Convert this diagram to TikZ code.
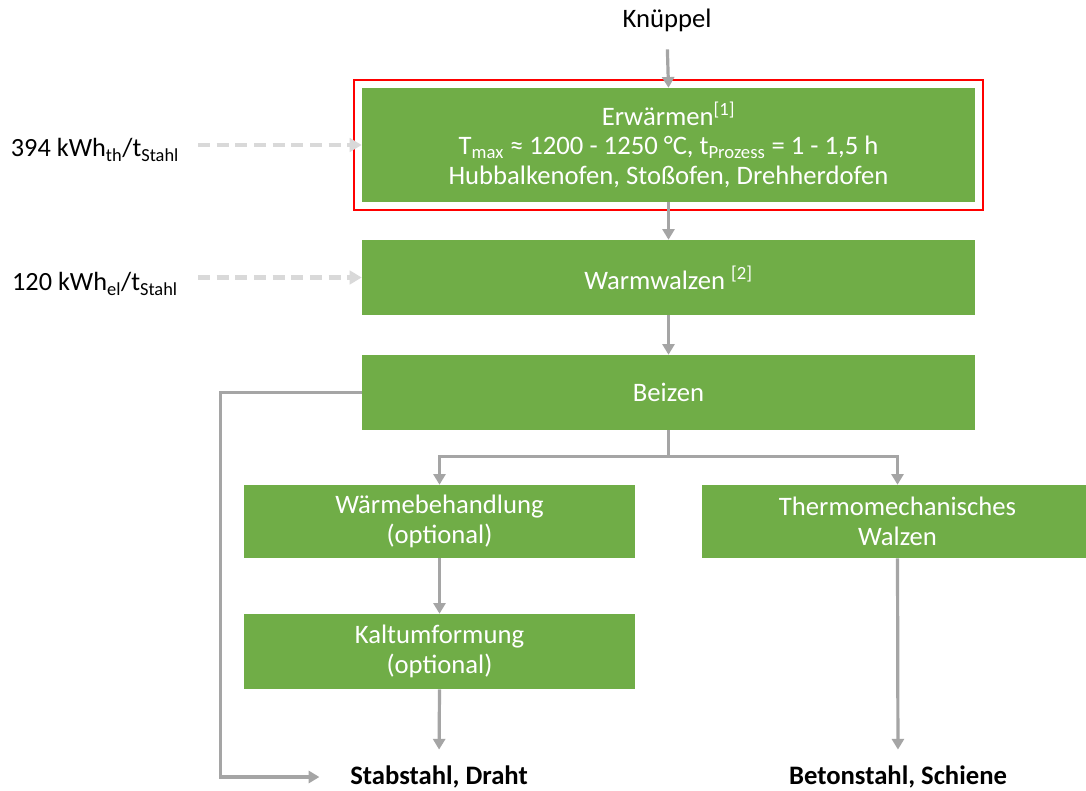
\documentclass[tikz,border=0pt]{standalone}
\usepackage{fontspec}
\setmainfont{Carlito}
\usetikzlibrary{arrows.meta,fit,calc}
\definecolor{boxgreen}{HTML}{70AD47}
\definecolor{arrgray}{HTML}{A5A5A5}
\definecolor{dashgray}{HTML}{D9D9D9}
\begin{document}
\begin{tikzpicture}[x=0.75pt,y=-0.75pt,
  stepbox/.style={fill=boxgreen,text=white,align=center,inner sep=0pt,
    font=\fontsize{20}{22.5}\selectfont},
  arr/.style={draw=arrgray,line width=2.4pt,-{Triangle[length=8pt,width=9pt]}},
  dasharr/.style={draw=dashgray,line width=3.6pt,dash pattern=on 9pt off 5pt,
    -{Triangle[length=9pt,width=10pt]}},
  outlbl/.style={font=\fontsize{20}{22}\selectfont\bfseries,inner sep=2pt},
  sidelbl/.style={font=\fontsize{19.7}{22}\selectfont,inner sep=2pt}]
\useasboundingbox (0,0) rectangle (1086,791);
\fill[white] (0,0) rectangle (1086,791);

\node[font=\fontsize{20}{22}\selectfont] (kn) at (667,20) {Knüppel};

\node[stepbox,minimum width=459.75pt,minimum height=85.5pt] (b1) at (668.5,145)
  {Erwärmen\textsuperscript{[1]}\\[-0.5pt]
   T\textsubscript{max} ≈ 1200 - 1250 °C, t\textsubscript{Prozess} = 1 - 1,5 h\\
   Hubbalkenofen, Stoßofen, Drehherdofen};
\node[draw=red,line width=1.5pt,fit=(b1),inner sep=5.6pt] (red) {};

\node[stepbox,minimum width=459.75pt,minimum height=56.25pt] (b2) at (668.5,277.5)
  {Warmwalzen \textsuperscript{[2]}};
\node[stepbox,minimum width=459.75pt,minimum height=56.25pt] (b3) at (668.5,392.5)
  {Beizen};
\node[stepbox,minimum width=293.25pt,minimum height=54.75pt] (b4) at (439.5,521.5)
  {Wärmebehandlung\\(optional)};
\node[stepbox,minimum width=293.25pt,minimum height=54.75pt] (b5) at (897.5,521.5)
  {Thermomechanisches\\Walzen};
\node[stepbox,minimum width=293.25pt,minimum height=56.25pt] (b6) at (439.5,651.5)
  {Kaltumformung\\(optional)};

\node[outlbl] (s1) at (439,777) {Stabstahl, Draht};
\node[outlbl] (s2) at (898,777) {Betonstahl, Schiene};

\node[sidelbl] (l1) at (95,150) {394 kWh\textsubscript{th}/t\textsubscript{Stahl}};
\node[sidelbl] (l2) at (95,284) {120 kWh\textsubscript{el}/t\textsubscript{Stahl}};
\coordinate (d1) at (198,145);
\coordinate (d2) at (198,277.5);

\draw[dasharr] (d1) -- (b1.west);
\draw[dasharr] (d2) -- (b2.west);

\draw[arr,shorten <=10pt] (kn.south) -- (b1.north);
\draw[arr] (b1.south) -- (b2.north);
\draw[arr] (b2.south) -- (b3.north);
\draw[arr] (b3.south) -- ++(0,26) -| (b4.north);
\draw[arr] (b3.south) -- ++(0,26) -| (b5.north);
\draw[arr] (b4.south) -- (b6.north);
\draw[arr,shorten >=10pt] (b6.south) -- (s1.north);
\draw[arr,shorten >=10pt] (b5.south) -- (s2.north);
\draw[arr,shorten >=21pt] (b3.west) -- ++(-141,0) |- (s1.west);
\end{tikzpicture}
\end{document}
